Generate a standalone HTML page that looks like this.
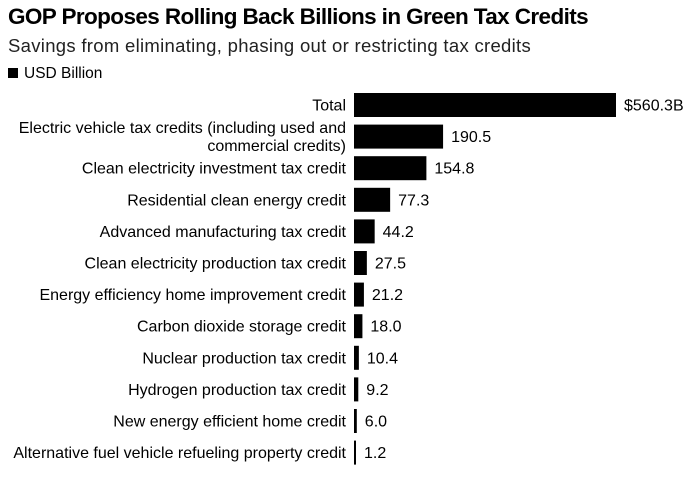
<!DOCTYPE html>
<html><head><meta charset="utf-8">
<style>
body{margin:0;background:#fff;width:699px;height:480px;overflow:hidden;font-family:"Liberation Sans",Arial,sans-serif;color:#000}
#title{position:absolute;left:8px;top:4px;font-size:22.5px;font-weight:bold;letter-spacing:-0.6px}
#sub{position:absolute;left:8px;top:35px;font-size:18.5px;color:#222;letter-spacing:0.3px}
#legend{position:absolute;left:8px;top:65px;font-size:15.5px}
#legend span.sw{display:inline-block;width:10px;height:10px;background:#000;margin-right:6px;vertical-align:0px}
svg{position:absolute;left:0;top:0}
</style></head><body>
<div id="title">GOP Proposes Rolling Back Billions in Green Tax Credits</div>
<div id="sub">Savings from eliminating, phasing out or restricting tax credits</div>
<div id="legend"><span class="sw"></span>USD Billion</div>
<svg id="chart" width="699" height="480"></svg>
<script>
const categories=[["Total"],["Electric vehicle tax credits (including used and","commercial credits)"],["Clean electricity investment tax credit"],["Residential clean energy credit"],["Advanced manufacturing tax credit"],["Clean electricity production tax credit"],["Energy efficiency home improvement credit"],["Carbon dioxide storage credit"],["Nuclear production tax credit"],["Hydrogen production tax credit"],["New energy efficient home credit"],["Alternative fuel vehicle refueling property credit"]];
const values=[560.3,190.5,154.8,77.3,44.2,27.5,21.2,18.0,10.4,9.2,6.0,1.2];
const valueLabels=["$560.3B","190.5","154.8","77.3","44.2","27.5","21.2","18.0","10.4","9.2","6.0","1.2"];
const svg=document.getElementById('chart');
const NS="http://www.w3.org/2000/svg";
const x0=354, xMax=560.3, xW=262;
function xScale(v){return v/xMax*xW;}
function yScale(i){return 105+i*31.6;}
const bh=24;
values.forEach((v,i)=>{
  const cy=yScale(i);
  const r=document.createElementNS(NS,'rect');
  
  
  const w=Math.max(xScale(v),2);
  r.setAttribute('x',x0);r.setAttribute('y',cy-bh/2);r.setAttribute('width',w);r.setAttribute('height',bh);r.setAttribute('fill','#000');
  svg.appendChild(r);
  const t=document.createElementNS(NS,'text');
  
  
  t.setAttribute('x',x0+w+8);t.setAttribute('y',cy+5.5);t.setAttribute('font-size','16');
  t.textContent=valueLabels[i];svg.appendChild(t);
  const lines=categories[i];
  lines.forEach((ln,j)=>{
    const c=document.createElementNS(NS,'text');
    
    
    c.setAttribute('x',x0-8);c.setAttribute('text-anchor','end');c.setAttribute('font-size','16');
    c.setAttribute('y',cy+5.5+(j-(lines.length-1)/2)*18);
    c.textContent=ln;svg.appendChild(c);
  });
});
</script>
</body></html>
